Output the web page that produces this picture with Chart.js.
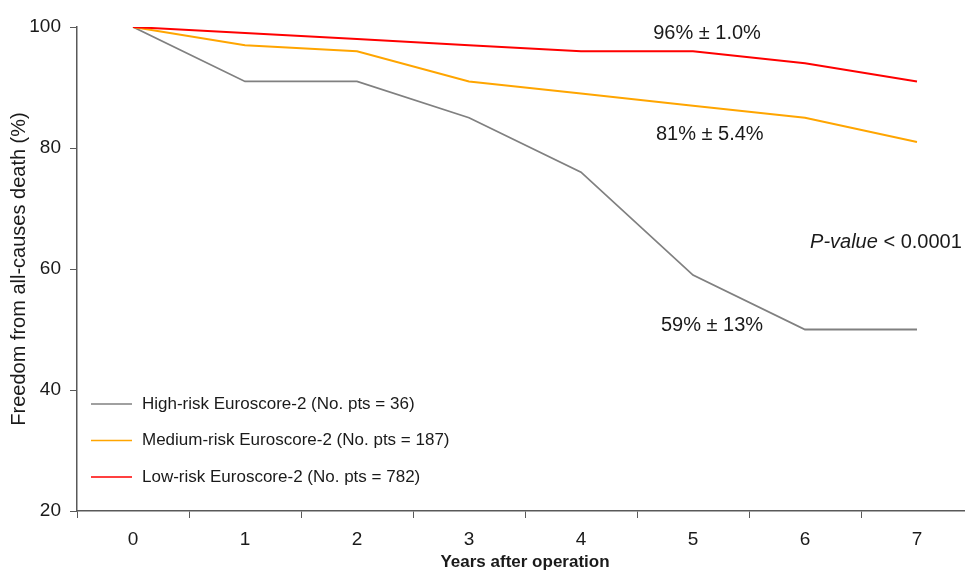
<!DOCTYPE html>
<html><head><meta charset="utf-8">
<script src="https://cdn.jsdelivr.net/npm/chart.js@4/dist/chart.umd.min.js"></script>
<style>html,body{margin:0;padding:0;overflow:hidden;background:#fff;width:965px;height:571px}canvas{display:block}</style>
</head><body>
<canvas id="c" width="973" height="571"></canvas>
<script>
// ---- data ----
const years = ['0', '1', '2', '3', '4', '5', '6', '7'];
const seriesNames = [
  'High-risk Euroscore-2 (No. pts = 36)',
  'Medium-risk Euroscore-2 (No. pts = 187)',
  'Low-risk Euroscore-2 (No. pts = 782)'
];
const highRisk = [100, 91, 91, 85, 76, 59, 50, 50];
const mediumRisk = [100, 97, 96, 91, 89, 87, 85, 81];
const lowRisk = [100, 99, 98, 97, 96, 96, 94, 91];
const yTicks = [20, 40, 60, 80, 100];
const noteTexts = ['96% ± 1.0%', '81% ± 5.4%', '59% ± 13%'];
const pValueText = ['P-value', ' < 0.0001'];
const yTitle = 'Freedom from all-causes death (%)';
const xTitle = 'Years after operation';

// ---- styles ----
const seriesColors = ['#808080', '#ffa500', '#ff0000'];
const seriesWidths = [1.8, 2, 2];
const FONT = '"Liberation Sans", Arial, Helvetica, sans-serif';
const TEXT = '#1a1a1a';
const AXIS = '#595959';
// annotation anchor positions (in axis units)
const notePos = [{x: 5.125, y: 99.0}, {x: 5.15, y: 82.3}, {x: 5.17, y: 50.7}];
const pValuePos = {x: 6.045, y: 64.4};

const overlay = {
  id: 'overlay',
  afterDatasetsDraw(chart) {
    const {ctx, scales: {x, y}, chartArea} = chart;
    ctx.save();
    ctx.fillStyle = TEXT;
    ctx.textBaseline = 'middle';
    ctx.font = '20px ' + FONT;
    ctx.textAlign = 'center';
    noteTexts.forEach((t, i) => {
      ctx.fillText(t, x.getPixelForValue(notePos[i].x), y.getPixelForValue(notePos[i].y));
    });
    ctx.textAlign = 'left';
    let px = x.getPixelForValue(pValuePos.x);
    const py = y.getPixelForValue(pValuePos.y);
    ctx.font = 'italic 20px ' + FONT;
    ctx.fillText(pValueText[0], px, py);
    px += ctx.measureText(pValueText[0]).width;
    ctx.font = '20px ' + FONT;
    ctx.fillText(pValueText[1], px, py);
    // legend
    ctx.font = '17px ' + FONT;
    chart.data.datasets.forEach((ds, i) => {
      const ly = chartArea.bottom - 107 + i * 36.5;
      ctx.strokeStyle = ds.borderColor;
      ctx.lineWidth = 1.3;
      ctx.beginPath();
      ctx.moveTo(chartArea.left + 14, ly);
      ctx.lineTo(chartArea.left + 55, ly);
      ctx.stroke();
      ctx.fillText(ds.label, chartArea.left + 65, ly);
    });
    ctx.restore();
  }
};

new Chart(document.getElementById('c'), {
  type: 'line',
  data: {
    labels: years,
    datasets: [highRisk, mediumRisk, lowRisk].map((d, i) => ({
      label: seriesNames[i],
      data: d,
      borderColor: seriesColors[i],
      backgroundColor: seriesColors[i],
      borderWidth: seriesWidths[i],
      pointRadius: 0,
      tension: 0,
      fill: false,
      order: 2 - i
    }))
  },
  options: {
    responsive: false,
    animation: false,
    devicePixelRatio: 1,
    layout: {padding: {top: 27, right: 0, bottom: 0, left: 0}},
    plugins: {legend: {display: false}, tooltip: {enabled: false}},
    scales: {
      x: {
        type: 'category',
        offset: true,
        grid: {offset: true, drawOnChartArea: false, drawTicks: true, tickLength: 7, color: AXIS, lineWidth: 1},
        border: {display: true, color: AXIS, width: 1.5},
        ticks: {font: {family: FONT, size: 19}, color: TEXT, padding: 10, maxRotation: 0},
        title: {display: true, text: xTitle, font: {family: FONT, size: 17, weight: 'bold', lineHeight: 1}, color: TEXT, padding: {top: 0, bottom: 0}},
        afterFit(s) { s.height = 60; }
      },
      y: {
        min: 20, max: 100,
        afterBuildTicks(s) { s.ticks = yTicks.map(v => ({value: v})); },
        grid: {drawOnChartArea: false, drawTicks: true, tickLength: 7, color: AXIS, lineWidth: 1},
        border: {display: true, color: AXIS, width: 1.5},
        ticks: {font: {family: FONT, size: 19}, color: TEXT, padding: 9},
        title: {display: true, text: yTitle, font: {family: FONT, size: 20}, color: TEXT, padding: {top: 7, bottom: 0}},
        afterFit(s) { s.width = 77; }
      }
    }
  },
  plugins: [overlay]
});
</script>
</body></html>
